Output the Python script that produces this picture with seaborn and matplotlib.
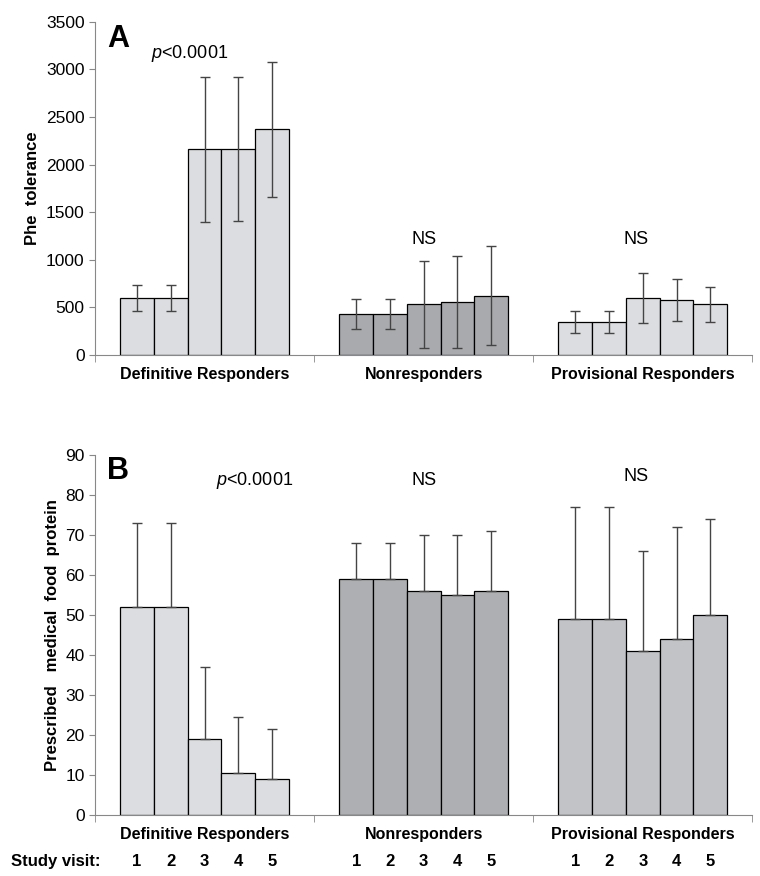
import matplotlib
matplotlib.use("Agg")
import matplotlib.pyplot as plt
import pandas as pd
import seaborn as sns

GROUPS = ["Definitive Responders", "Nonresponders", "Provisional Responders"]
VISITS = [1, 2, 3, 4, 5]

PHE_MEAN = [[600, 600, 2160, 2165, 2370],
            [430, 430, 530, 555, 620],
            [345, 345, 595, 575, 530]]
PHE_ERR = [[135, 135, 760, 760, 710],
           [155, 155, 455, 485, 520],
           [115, 115, 260, 225, 185]]

MFP_MEAN = [[52, 52, 19, 10.5, 9],
            [59, 59, 56, 55, 56],
            [49, 49, 41, 44, 50]]
MFP_UPPER = [[73, 73, 37, 24.5, 21.5],
             [68, 68, 70, 70, 71],
             [77, 77, 66, 72, 74]]

COLORS_A = ["#dcdde0", "#a9aaad", "#dcdde0"]
COLORS_B = ["#dcdde0", "#aeafb2", "#c2c3c6"]
ANNOT_A = ["p<0.0001", "NS", "NS"]
ANNOT_B = ["p<0.0001", "NS", "NS"]


def _frame(means):
    rows = []
    for g, group in enumerate(GROUPS):
        for v, visit in enumerate(VISITS):
            rows.append({"group": group, "visit": visit, "value": means[g][v]})
    return pd.DataFrame(rows)


def _draw(ax, means, lower, upper, colors, ylim, yticks, ylabel, letter, annot_pos, annots):
    df = _frame(means)
    sns.barplot(data=df, x="group", y="value", hue="visit", order=GROUPS, hue_order=VISITS,
                width=0.77, gap=0, errorbar=None, legend=False, ax=ax,
                edgecolor="black", linewidth=0.9)
    bars = [p for p in ax.patches if p.get_height() > 0]
    # seaborn orders patches by hue level then by group
    for v in range(len(VISITS)):
        for g in range(len(GROUPS)):
            p = bars[v * len(GROUPS) + g]
            p.set_facecolor(colors[g])
            xc = p.get_x() + p.get_width() / 2
            ax.errorbar(xc, means[g][v], yerr=[[lower[g][v]], [upper[g][v]]], fmt="none",
                        ecolor="#444444", elinewidth=1, capsize=3.5, capthick=1)
    ax.set_ylim(*ylim)
    ax.set_yticks(yticks)
    ax.set_xlim(-0.5, 2.5)
    ax.set_xticks([-0.5, 0.5, 1.5, 2.5], minor=True)
    ax.set_xticks(range(3))
    ax.set_xticklabels(GROUPS, fontweight="bold", fontsize=11.5)
    ax.tick_params(axis="x", which="major", length=0, pad=9)
    ax.tick_params(axis="x", which="minor", length=5, color="#888888")
    ax.tick_params(axis="y", labelsize=12.5, color="#888888", length=4)
    ax.set_xlabel("")
    ax.set_ylabel(ylabel, fontweight="bold", fontsize=12)
    for s in ["top", "right"]:
        ax.spines[s].set_visible(False)
    for s in ["left", "bottom"]:
        ax.spines[s].set_color("#888888")
    ax.text(0.018, 0.995, letter, transform=ax.transAxes, fontsize=22, fontweight="bold",
            va="top", ha="left")
    for g, txt in enumerate(annots):
        label = "$p$<0.0001" if txt.startswith("p") else txt
        ax.text(annot_pos[g][0], annot_pos[g][1], label, fontsize=13, ha="center", va="center")


plt.rcParams["font.family"] = ["Liberation Sans", "DejaVu Sans"]
plt.rcParams["mathtext.fontset"] = "custom"
plt.rcParams["mathtext.it"] = "Liberation Sans:italic"

fig = plt.figure(figsize=(7.6, 8.76), dpi=100)
ax_a = fig.add_axes([0.125, 0.595, 0.865, 0.380])
ax_b = fig.add_axes([0.125, 0.070, 0.865, 0.411])

zeros = [[0] * 5 for _ in GROUPS]
mfp_up = [[MFP_UPPER[g][v] - MFP_MEAN[g][v] for v in range(5)] for g in range(3)]

_draw(ax_a, PHE_MEAN, PHE_ERR, PHE_ERR, COLORS_A, (0, 3500), range(0, 3501, 500),
      "Phe  tolerance", "A", [(-0.07, 3170), (1.0, 1210), (1.97, 1210)], ANNOT_A)
_draw(ax_b, MFP_MEAN, zeros, mfp_up, COLORS_B, (0, 90), range(0, 91, 10),
      "Prescribed   medical  food  protein", "B", [(0.23, 83.5), (1.0, 83.5), (1.97, 84.5)], ANNOT_B)

# study visit row under panel B, aligned with bar centres
fig.text(0.015, 0.008, "Study visit:", fontweight="bold", fontsize=12, ha="left", va="bottom")
for g in range(3):
    for v, visit in enumerate(VISITS):
        xc = g + (v - 2) * 0.77 / 5
        xf = fig.transFigure.inverted().transform(ax_b.transData.transform((xc, 0)))[0]
        fig.text(xf, 0.008, str(visit), fontweight="bold", fontsize=12, ha="center", va="bottom")

fig.savefig("out.png", dpi=100)
